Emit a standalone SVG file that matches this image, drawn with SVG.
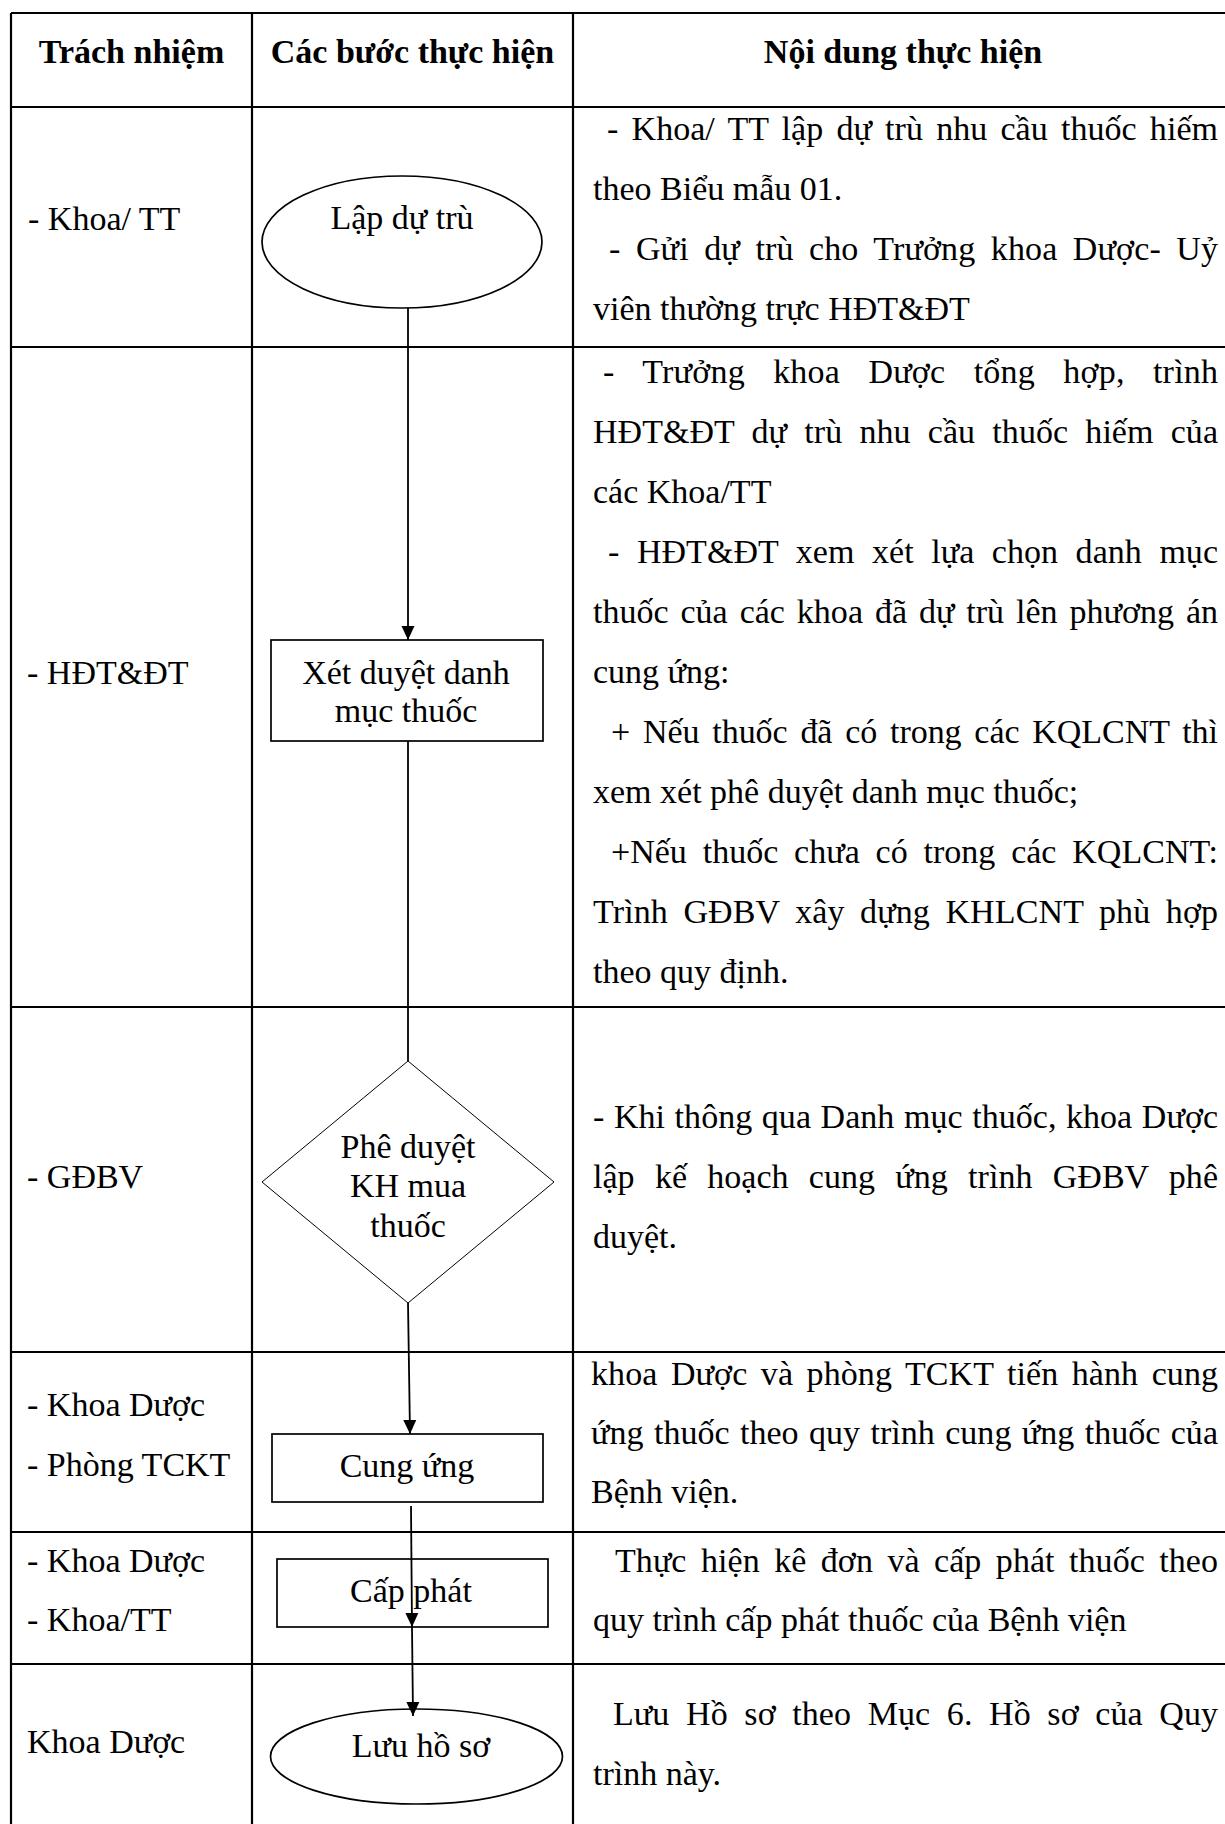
<svg xmlns="http://www.w3.org/2000/svg" width="1225" height="1824" viewBox="0 0 1225 1824">
<style>
text { font-family: "Liberation Serif", "Times New Roman", serif; font-size: 34px; fill: #000; }
.hdr { font-weight: bold; text-anchor: middle; }
.ctr { text-anchor: middle; }
.grid { stroke: #000; stroke-width: 2.2; fill: none; }
.shape { fill: #fff; stroke: #000; stroke-width: 1.7; }
.thin { fill: #fff; stroke: #000; stroke-width: 1; }
.conn { stroke: #000; stroke-width: 1.8; fill: none; }
</style>
<defs>
<marker id="ah" markerWidth="14" markerHeight="14" refX="14" refY="7" orient="auto" markerUnits="userSpaceOnUse">
<path d="M0,0.5 L14,7 L0,13.5 z" fill="#000"/>
</marker>
</defs>
<rect x="0" y="0" width="1225" height="1824" fill="#fff"/>
<g id="table">
<path class="grid" d="M11,13 H1225 M11,107 H1225 M11,347 H1225 M11,1007 H1225 M11,1352 H1225 M11,1532 H1225 M11,1664 H1225 M11,13 V1824 M252,13 V1824 M573,13 V1824"/>
<text class="hdr" x="131.5" y="63">Trách nhiệm</text>
<text class="hdr" x="412.5" y="63">Các bước thực hiện</text>
<text class="hdr" x="903" y="63">Nội dung thực hiện</text>
</g>
<g id="responsibility">
<text x="28" y="230">- Khoa/ TT</text>
<text x="27" y="684">- HĐT&amp;ĐT</text>
<text x="27" y="1188">- GĐBV</text>
<text x="27" y="1416">- Khoa Dược</text>
<text x="27" y="1476">- Phòng TCKT</text>
<text x="27" y="1572">- Khoa Dược</text>
<text x="27" y="1631">- Khoa/TT</text>
<text x="27" y="1753">Khoa Dược</text>
</g>
<g id="content">
<text x="607" y="140" textLength="611" lengthAdjust="spacing" word-spacing="4.6">- Khoa/ TT lập dự trù nhu cầu thuốc hiếm</text>
<text x="593" y="200">theo Biểu mẫu 01.</text>
<text x="609" y="260" textLength="609" lengthAdjust="spacing" word-spacing="6.9">- Gửi dự trù cho Trưởng khoa Dược- Uỷ</text>
<text x="593" y="320">viên thường trực HĐT&amp;ĐT</text>
<text x="603" y="383" textLength="615" lengthAdjust="spacing" word-spacing="19.6">- Trưởng khoa Dược tổng hợp, trình</text>
<text x="593" y="443" textLength="625" lengthAdjust="spacing" word-spacing="8.7">HĐT&amp;ĐT dự trù nhu cầu thuốc hiếm của</text>
<text x="593" y="503">các Khoa/TT</text>
<text x="608" y="563" textLength="610" lengthAdjust="spacing" word-spacing="9">- HĐT&amp;ĐT xem xét lựa chọn danh mục</text>
<text x="593" y="623" textLength="625" lengthAdjust="spacing" word-spacing="3.4">thuốc của các khoa đã dự trù lên phương án</text>
<text x="593" y="683">cung ứng:</text>
<text x="611" y="743" textLength="607" lengthAdjust="spacing" word-spacing="4.3">+ Nếu thuốc đã có trong các KQLCNT thì</text>
<text x="593" y="803">xem xét phê duyệt danh mục thuốc;</text>
<text x="611" y="863" textLength="607" lengthAdjust="spacing" word-spacing="7.3">+Nếu thuốc chưa có trong các KQLCNT:</text>
<text x="593" y="923" textLength="625" lengthAdjust="spacing" word-spacing="6.8">Trình GĐBV xây dựng KHLCNT phù hợp</text>
<text x="593" y="983">theo quy định.</text>
<text x="593" y="1128" textLength="625" lengthAdjust="spacing" word-spacing="1">- Khi thông qua Danh mục thuốc, khoa Dược</text>
<text x="593" y="1188" textLength="625" lengthAdjust="spacing" word-spacing="11.7">lập kế hoạch cung ứng trình GĐBV phê</text>
<text x="593" y="1248">duyệt.</text>
<text x="591" y="1385" textLength="627" lengthAdjust="spacing" word-spacing="4.9">khoa Dược và phòng TCKT tiến hành cung</text>
<text x="591" y="1444" textLength="627" lengthAdjust="spacing" word-spacing="1.8">ứng thuốc theo quy trình cung ứng thuốc của</text>
<text x="591" y="1503">Bệnh viện.</text>
<text x="615" y="1572" textLength="603" lengthAdjust="spacing" word-spacing="5.9">Thực hiện kê đơn và cấp phát thuốc theo</text>
<text x="593" y="1631">quy trình cấp phát thuốc của Bệnh viện</text>
<text x="613" y="1725" textLength="605" lengthAdjust="spacing" word-spacing="8">Lưu Hồ sơ theo Mục 6. Hồ sơ của Quy</text>
<text x="593" y="1785">trình này.</text>
</g>
<g id="node-lap-du-tru">
<ellipse class="shape" cx="402" cy="242" rx="140" ry="66"/>
<text class="ctr" x="402" y="229">Lập dự trù</text>
</g>
<g id="node-xet-duyet">
<rect class="shape" x="271" y="640" width="272" height="101"/>
<text class="ctr" x="406" y="684">Xét duyệt danh</text>
<text class="ctr" x="406" y="722">mục thuốc</text>
</g>
<g id="node-phe-duyet">
<path class="thin" d="M408,1061 L554,1182 L408,1303 L262,1182 Z"/>
<text class="ctr" x="408" y="1158">Phê duyệt</text>
<text class="ctr" x="408" y="1197">KH mua</text>
<text class="ctr" x="408" y="1237">thuốc</text>
</g>
<g id="node-cung-ung">
<rect class="shape" x="272" y="1434" width="271" height="68"/>
<text class="ctr" x="407" y="1477">Cung ứng</text>
</g>
<g id="node-cap-phat">
<rect class="shape" x="277" y="1559" width="271" height="68"/>
<text class="ctr" x="411" y="1602">Cấp phát</text>
</g>
<g id="node-luu-ho-so">
<ellipse class="shape" cx="416.5" cy="1756.5" rx="146" ry="47.5"/>
<text class="ctr" x="421" y="1757">Lưu hồ sơ</text>
</g>
<g id="connectors">
<path class="conn" d="M408,308 L408,640" marker-end="url(#ah)"/>
<path class="conn" d="M408,741 L408,1061"/>
<path class="conn" d="M408,1303 L410,1434" marker-end="url(#ah)"/>
<path class="conn" d="M411,1506 L412,1627" marker-end="url(#ah)"/>
<path class="conn" d="M412,1627 L413,1716" marker-end="url(#ah)"/>
</g>
</svg>
